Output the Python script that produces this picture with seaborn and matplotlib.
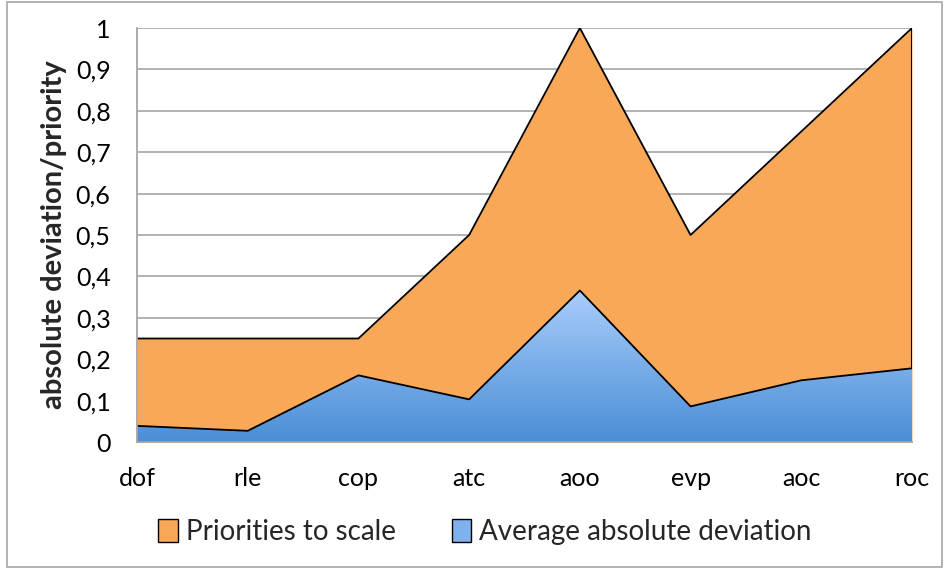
import numpy as np
import pandas as pd
import matplotlib
matplotlib.use("Agg")
import matplotlib.pyplot as plt
import seaborn as sns
from matplotlib.patches import Patch, Rectangle
from matplotlib.ticker import FuncFormatter, MultipleLocator

categories = ["dof", "rle", "cop", "atc", "aoo", "evp", "aoc", "roc"]
priorities = [0.25, 0.25, 0.25, 0.5, 1.0, 0.5, 0.75, 1.0]
avg_abs_dev = [0.039, 0.027, 0.161, 0.103, 0.366, 0.086, 0.149, 0.178]

df = pd.DataFrame({"cat": categories, "pos": range(len(categories)),
                   "prio": priorities, "dev": avg_abs_dev})

sns.set_style("white")
plt.rcParams["font.family"] = ["Lato", "DejaVu Sans"]

ORANGE = "#F9A857"
fig = plt.figure(figsize=(9.44, 5.69), dpi=100)
ax = fig.add_axes([137 / 944, 1 - 442 / 569, 775 / 944, 414 / 569])

x = df["pos"].to_numpy()

# orange area (priorities)
ax.fill_between(x, 0, df["prio"], color=ORANGE, lw=0, zorder=2)
sns.lineplot(data=df, x="pos", y="prio", color="black", lw=1.3, ax=ax, zorder=3)
ax.plot([x[-1], x[-1]], [0, priorities[-1]], color="black", lw=1.5, zorder=3)

# blue area with vertical gradient
poly = ax.fill_between(x, 0, df["dev"], color="none", lw=0, zorder=4)
grad = np.linspace(0, 1, 256).reshape(-1, 1)
cmap = matplotlib.colors.LinearSegmentedColormap.from_list("b", ["#4A8ED6", "#A9CDFB"])
ymax = max(avg_abs_dev)
img = ax.imshow(grad, cmap=cmap, aspect="auto", origin="lower",
                extent=[x[0], x[-1], 0, ymax], zorder=4)
img.set_clip_path(poly.get_paths()[0], transform=ax.transData)
sns.lineplot(data=df, x="pos", y="dev", color="black", lw=1.3, ax=ax, zorder=5)

ax.set_xlim(x[0], x[-1])
ax.set_ylim(0, 1)
ax.yaxis.set_major_locator(MultipleLocator(0.1))
ax.yaxis.set_major_formatter(FuncFormatter(
    lambda v, p: "0" if abs(v) < 1e-9 else ("1" if abs(v - 1) < 1e-9 else f"{v:.1f}".replace(".", ","))))
ax.set_xticks(x)
ax.set_xticklabels(categories)
ax.grid(axis="y", color="#A6A6A6", lw=1.2, zorder=0)
ax.set_axisbelow(True)
for s in ["top", "right"]:
    ax.spines[s].set_visible(False)
for s in ["left", "bottom"]:
    ax.spines[s].set_color("#A6A6A6")
    ax.spines[s].set_linewidth(1.3)
    ax.spines[s].set_zorder(6)
ax.tick_params(axis="both", which="both", direction="out", length=7, width=1.3,
               color="#A6A6A6", labelsize=18, labelcolor="black")
ax.tick_params(axis="x", pad=11)
ax.tick_params(axis="y", pad=12)
ax.set_xlabel("")
ax.set_ylabel("absolute deviation/priority", fontsize=21, fontweight="bold", labelpad=6)

handles = [Patch(facecolor=ORANGE, edgecolor="black", label="Priorities to scale"),
           Patch(facecolor="#7FB1EC", edgecolor="black", label="Average absolute deviation")]
fig.legend(handles=handles, loc="center", bbox_to_anchor=(485 / 944, 1 - 532 / 569),
           ncol=2, frameon=False, fontsize=20, handlelength=0.7, handleheight=0.9,
           handletextpad=0.3, columnspacing=2.0)

fig.patches.append(Rectangle((7 / 944, 2 / 569), 935 / 944, 565 / 569,
                             transform=fig.transFigure, fill=False,
                             edgecolor="#A6A6A6", lw=1.2))

fig.savefig("out.png", dpi=100)
